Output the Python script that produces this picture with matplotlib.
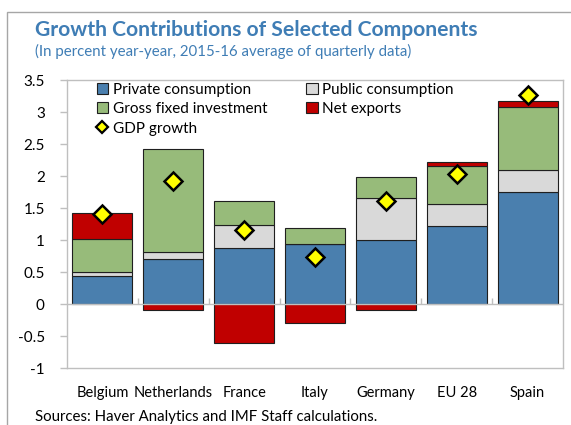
import matplotlib
matplotlib.use('Agg')
import matplotlib.pyplot as plt
import numpy as np
from matplotlib.patches import Rectangle, Patch
from matplotlib.lines import Line2D

plt.rcParams['font.family'] = ['Lato', 'DejaVu Sans']

# contributions to growth, percentage points
countries = ['Belgium', 'Netherlands', 'France', 'Italy', 'Germany', 'EU 28', 'Spain']
private = [0.43, 0.70, 0.87, 0.94, 1.00, 1.22, 1.75]
public = [0.07, 0.11, 0.36, 0.00, 0.66, 0.35, 0.35]
gfi = [0.51, 1.61, 0.38, 0.25, 0.33, 0.59, 0.98]
net_exports = [0.41, -0.09, -0.61, -0.29, -0.09, 0.06, 0.09]
gdp = [1.40, 1.92, 1.15, 0.74, 1.61, 2.03, 3.27]

series = [('Private consumption', private, '#4a7fae'),
          ('Public consumption', public, '#d9d9d9'),
          ('Gross fixed investment', gfi, '#97bb7a'),
          ('Net exports', net_exports, '#c00000')]

title_col = '#3f7db5'
grid_col = '#bfbfbf'
edge_col = '#1f1f1f'

fig = plt.figure(figsize=(5.71, 4.25), dpi=100)
ax = fig.add_axes([67/571, 1-368/425, 496/571, 288/425])

x = np.arange(len(countries))
pos_base = np.zeros(len(countries))
neg_base = np.zeros(len(countries))
for name, vals, col in series:
    v = np.array(vals)
    bottom = np.where(v >= 0, pos_base, neg_base)
    ax.bar(x, v, 0.846, bottom=bottom, color=col, edgecolor=edge_col,
           linewidth=0.8, zorder=3)
    pos_base = pos_base + np.clip(v, 0, None)
    neg_base = neg_base + np.clip(v, None, 0)

ax.plot(x, gdp, ls='none', marker='D', ms=9, mfc='#ffff00', mec='black',
        mew=1.8, zorder=5)

ax.set_xlim(-0.5, len(countries) - 0.5)
ax.set_ylim(-1, 3.5)
yt = np.arange(-1, 3.51, 0.5)
ax.set_yticks(yt)
ax.set_yticklabels(['%g' % t for t in yt])
ax.set_xticks(x)
ax.set_xticklabels(countries)
ax.tick_params(axis='x', length=0, pad=13, labelsize=10.5)
ax.tick_params(axis='y', length=5, color=grid_col, width=1, pad=11, labelsize=11)
for s in ax.spines.values():
    s.set_color(grid_col)
    s.set_linewidth(1)

# zero line with category separators
ax.axhline(0, color=grid_col, lw=1, zorder=4)
sec = ax.secondary_xaxis(1/4.5)
sec.set_xticks(np.arange(0.5, len(countries) - 1, 1))
sec.tick_params(axis='x', direction='in', length=4, width=1, color=grid_col,
                labelbottom=False, labeltop=False)
sec.spines['bottom'].set_visible(False)
sec.spines['top'].set_visible(False)

handles = [Patch(facecolor=series[0][2], edgecolor=edge_col, lw=0.8),
           Patch(facecolor=series[2][2], edgecolor=edge_col, lw=0.8),
           Line2D([], [], ls='none', marker='D', ms=6.5, mfc='#ffff00', mec='black', mew=1.6),
           Patch(facecolor=series[1][2], edgecolor=edge_col, lw=0.8),
           Patch(facecolor=series[3][2], edgecolor=edge_col, lw=0.8)]
labels = ['Private consumption', 'Gross fixed investment', 'GDP growth',
          'Public consumption', 'Net exports']
ax.legend(handles, labels, ncol=2, loc='upper left', bbox_to_anchor=(0.06, 0.99),
          frameon=False, fontsize=11, handlelength=0.75, handleheight=0.75,
          handletextpad=0.3, labelspacing=0.35, columnspacing=2.55, borderpad=0,
          borderaxespad=0)

fig.text(35/571, 1-30/425, 'Growth Contributions of Selected Components',
         color=title_col, fontsize=15.2, fontweight='bold', va='center')
fig.text(35/571, 1-51/425, '(In percent year-year, 2015-16 average of quarterly data)',
         color=title_col, fontsize=10.8, va='center')
fig.text(35/571, 1/425, 'Sources: Haver Analytics and IMF Staff calculations.',
         fontsize=10.8, va='bottom')

# outer frame around the panel
fig.patches.append(Rectangle((7/571, -0.1), 1.2, 1.1 - 12/425, transform=fig.transFigure,
                             fill=False, edgecolor='#a6a6a6', lw=1))

fig.savefig('out.png', dpi=100)
